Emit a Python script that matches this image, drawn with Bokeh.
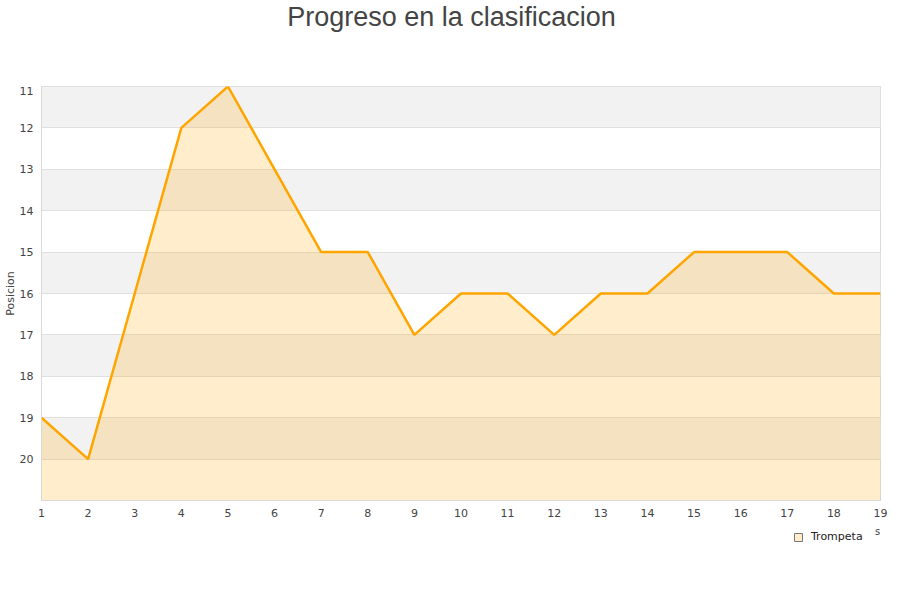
from bokeh.plotting import figure
from bokeh.layouts import column
from bokeh.models import Range1d, FixedTicker, Label, Legend, LegendItem
from bokeh.embed import file_html
from bokeh.resources import INLINE

# ---- data ----
jornadas = list(range(1, 20))
posicion = [19, 20, 16, 12, 11, 13, 15, 15, 17, 16, 16, 17, 16, 16, 15, 15, 15, 16, 16]
yticks = [11, 12, 13, 14, 15, 16, 17, 18, 19, 20]
team = "Trompeta"
title_text = "Progreso en la clasificacion"
ylabel = "Posicion"

y_bottom = 21
y_top = 11

W = 900
TOP_H, MAIN_H, BOT_H = 86, 438, 76
FRAME_LEFT = 40  # column aligns the strips' frames with the main frame


def blank(height):
    f = figure(width=W, height=height, output_backend="svg", toolbar_location=None,
               x_range=Range1d(0, W), y_range=Range1d(0, height),
               x_axis_location=None, y_axis_location=None,
               min_border=0, min_border_left=0, min_border_right=0,
               min_border_top=0, min_border_bottom=0)
    f.outline_line_color = None
    f.xgrid.visible = False
    f.ygrid.visible = False
    f.background_fill_color = "white"
    f.border_fill_color = "white"
    return f


# ---- title strip ----
top = blank(TOP_H)
top.add_layout(Label(x=450 - FRAME_LEFT, y=TOP_H - 16, x_units="screen", y_units="screen",
                     text=title_text, text_align="center", text_baseline="middle",
                     text_font="Liberation Sans", text_font_size="27px", text_color="#444444"))

# ---- main chart ----
p = figure(width=W, height=MAIN_H, output_backend="svg", toolbar_location=None,
           x_range=Range1d(1, 19), y_range=Range1d(y_bottom, y_top),
           min_border_left=FRAME_LEFT, min_border_right=20, min_border_top=0, min_border_bottom=24)
p.outline_line_color = "#d9d9d9"
p.outline_line_width = 1
p.background_fill_color = "white"
p.border_fill_color = "white"

band_bottoms = yticks[::2]
band_tops = [b + 1 for b in band_bottoms]
q = p.quad(left=1, right=19, bottom=band_bottoms, top=band_tops,
           fill_color="#f2f2f2", line_color=None)
q.level = "image"

p.varea(x=jornadas, y1=posicion, y2=y_bottom, fill_color="#FFA500", fill_alpha=0.2)
p.line(jornadas, posicion, line_color="#FFA500", line_width=2.5)

p.yaxis.ticker = FixedTicker(ticks=yticks)
p.xaxis.ticker = FixedTicker(ticks=jornadas)
for ax in (p.xaxis[0], p.yaxis[0]):
    ax.major_tick_line_color = None
    ax.minor_tick_line_color = None
    ax.major_tick_out = 0
    ax.major_tick_in = 0
    ax.minor_tick_out = 0
    ax.axis_line_color = "#d9d9d9"
    ax.major_label_text_font = "DejaVu Sans"
    ax.major_label_text_font_size = "11px"
    ax.major_label_text_color = "#444444"
    ax.major_label_standoff = 8
p.yaxis.axis_label = ylabel
p.yaxis.axis_label_standoff = 0
p.yaxis.axis_label_text_line_height = 1.0
p.yaxis.axis_label_text_font = "DejaVu Sans"
p.yaxis.axis_label_text_font_size = "11px"
p.yaxis.axis_label_text_font_style = "normal"
p.yaxis.axis_label_text_color = "#444444"
p.xgrid.grid_line_color = None
p.ygrid.grid_line_color = "#e0e0e0"
p.ygrid.ticker = FixedTicker(ticks=yticks)

# ---- legend strip ----
bot = blank(BOT_H)
dummy = bot.quad(left=[-100], right=[-90], bottom=[-100], top=[-90],
                 fill_color="#ffedcc", line_color="#777777", line_width=1)
legend = Legend(items=[LegendItem(label=team, renderers=[dummy])],
                location=(792 - FRAME_LEFT, BOT_H - 9 - 10),
                padding=0, margin=0, glyph_width=10, glyph_height=10, label_standoff=8,
                border_line_color=None, background_fill_alpha=0,
                label_text_font="DejaVu Sans", label_text_font_size="11px", label_text_color="#222222")
bot.add_layout(legend, "center")
bot.add_layout(Label(x=876 - FRAME_LEFT, y=BOT_H - 7, x_units="screen", y_units="screen", text="s",
                     text_align="center", text_baseline="middle", text_font="DejaVu Sans",
                     text_font_size="10px", text_color="#444444"))

layout = column(top, p, bot, spacing=0)
open("out.html", "w").write(file_html(layout, INLINE))
